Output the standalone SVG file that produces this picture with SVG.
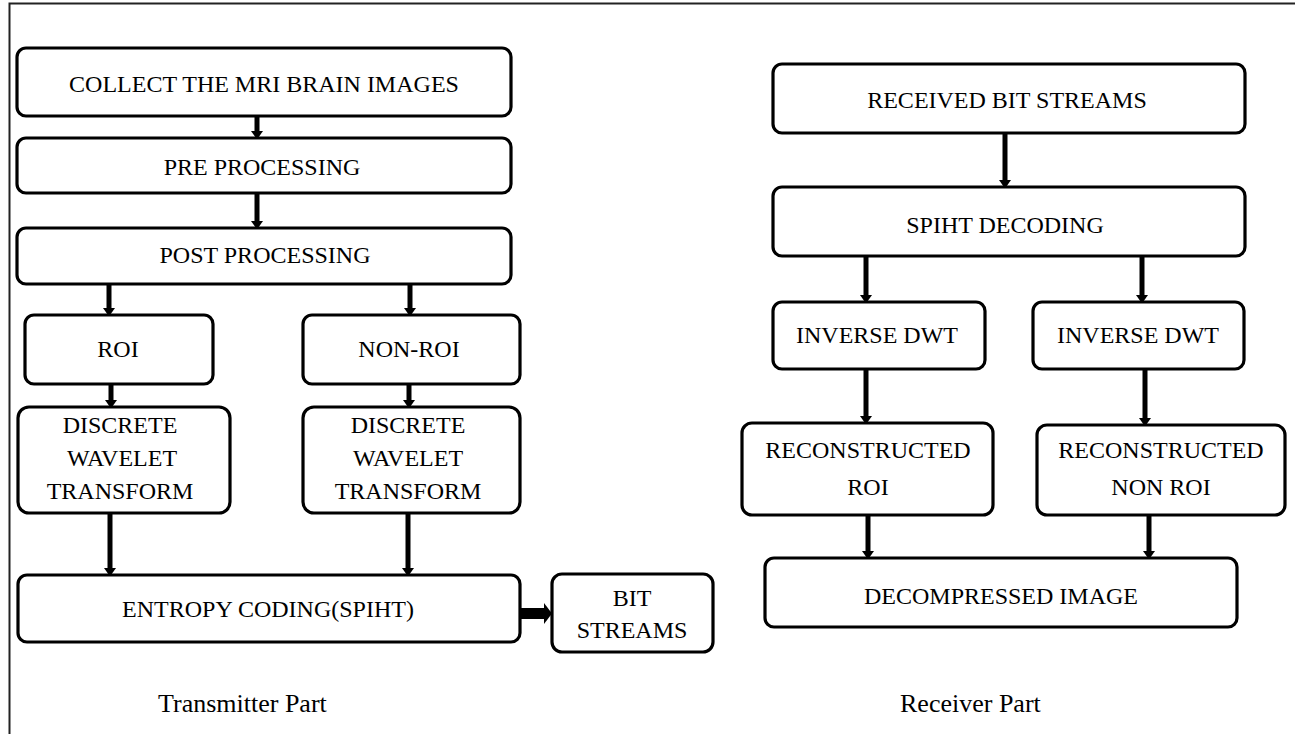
<svg xmlns="http://www.w3.org/2000/svg" width="1295" height="734" viewBox="0 0 1295 734">
<defs>
<style>
.box{fill:#fff;stroke:#000;stroke-width:3.2}
.lbl{font-family:'Liberation Serif','Times New Roman',serif;font-size:24px;fill:#000;text-anchor:middle}
.cap{font-family:'Liberation Serif','Times New Roman',serif;font-size:26px;fill:#000}
.c{stroke:#000;stroke-width:5;fill:none}
</style>
<marker id="ah" markerUnits="userSpaceOnUse" markerWidth="10" markerHeight="12" refX="0" refY="5" orient="auto" viewBox="0 0 8 10">
<path d="M0,0 L7,5 L0,10 z" fill="#000"/>
</marker>
</defs>
<rect width="1295" height="734" fill="#fff"/>
<path d="M9.5,734 V3.5 H1295" fill="none" stroke="#222" stroke-width="2"/>

<g id="connectors">
<line class="c" x1="257" y1="116" x2="257" y2="131" marker-end="url(#ah)"/>
<line class="c" x1="257" y1="193" x2="257" y2="221" marker-end="url(#ah)"/>
<line class="c" x1="109" y1="284" x2="109" y2="308" marker-end="url(#ah)"/>
<line class="c" x1="410" y1="284" x2="410" y2="308" marker-end="url(#ah)"/>
<line class="c" x1="111" y1="384" x2="111" y2="400" marker-end="url(#ah)"/>
<line class="c" x1="409" y1="384" x2="409" y2="400" marker-end="url(#ah)"/>
<line class="c" x1="110" y1="513" x2="110" y2="568" marker-end="url(#ah)"/>
<line class="c" x1="408" y1="513" x2="408" y2="568" marker-end="url(#ah)"/>
<rect x="520" y="608" width="25" height="11" fill="#000"/>
<polygon points="544,603 552,613.5 544,624" fill="#000"/>
<line class="c" x1="1005" y1="133" x2="1005" y2="180" marker-end="url(#ah)"/>
<line class="c" x1="866" y1="256" x2="866" y2="295" marker-end="url(#ah)"/>
<line class="c" x1="1142" y1="256" x2="1142" y2="295" marker-end="url(#ah)"/>
<line class="c" x1="866" y1="369" x2="866" y2="416" marker-end="url(#ah)"/>
<line class="c" x1="1145" y1="369" x2="1145" y2="418" marker-end="url(#ah)"/>
<line class="c" x1="868" y1="515" x2="868" y2="551" marker-end="url(#ah)"/>
<line class="c" x1="1149" y1="515" x2="1149" y2="551" marker-end="url(#ah)"/>
</g>

<g font-family="Liberation Serif, Times New Roman, serif" font-size="24">
<g id="collect"><rect class="box" x="17" y="48" width="494" height="68" rx="9"/><text class="lbl" font-family="Liberation Serif, serif" x="264" y="92">COLLECT THE MRI BRAIN IMAGES</text></g>
<g id="pre"><rect class="box" x="17" y="138" width="494" height="55" rx="9"/><text class="lbl" font-family="Liberation Serif, serif" x="262" y="175">PRE PROCESSING</text></g>
<g id="post"><rect class="box" x="17" y="228" width="494" height="56" rx="9"/><text class="lbl" font-family="Liberation Serif, serif" x="265" y="263">POST PROCESSING</text></g>
<g id="roi"><rect class="box" x="25" y="315" width="188" height="69" rx="9"/><text class="lbl" font-family="Liberation Serif, serif" x="118" y="357">ROI</text></g>
<g id="nonroi"><rect class="box" x="303" y="315" width="217" height="69" rx="9"/><text class="lbl" font-family="Liberation Serif, serif" x="409" y="357">NON-ROI</text></g>
<g id="dwt-roi"><rect class="box" x="18" y="407" width="212" height="106" rx="11"/>
<text class="lbl" font-family="Liberation Serif, serif" x="120" y="433">DISCRETE</text><text class="lbl" font-family="Liberation Serif, serif" x="122" y="466">WAVELET</text><text class="lbl" font-family="Liberation Serif, serif" x="120" y="499">TRANSFORM</text></g>
<g id="dwt-nonroi"><rect class="box" x="303" y="407" width="217" height="106" rx="11"/>
<text class="lbl" font-family="Liberation Serif, serif" x="408" y="433">DISCRETE</text><text class="lbl" font-family="Liberation Serif, serif" x="408" y="466">WAVELET</text><text class="lbl" font-family="Liberation Serif, serif" x="408" y="499">TRANSFORM</text></g>
<g id="entropy"><rect class="box" x="18" y="575" width="502" height="67" rx="9"/><text class="lbl" font-family="Liberation Serif, serif" x="268" y="617">ENTROPY CODING(SPIHT)</text></g>
<g id="bitstreams"><rect class="box" x="552" y="574" width="161" height="78" rx="10"/>
<text class="lbl" font-family="Liberation Serif, serif" x="632" y="606">BIT</text><text class="lbl" font-family="Liberation Serif, serif" x="632" y="638">STREAMS</text></g>

<g id="received"><rect class="box" x="773" y="64" width="472" height="69" rx="9"/><text class="lbl" font-family="Liberation Serif, serif" x="1007" y="108">RECEIVED BIT STREAMS</text></g>
<g id="spiht"><rect class="box" x="773" y="187" width="472" height="69" rx="9"/><text class="lbl" font-family="Liberation Serif, serif" x="1005" y="233">SPIHT DECODING</text></g>
<g id="idwt-roi"><rect class="box" x="773" y="302" width="212" height="67" rx="9"/><text class="lbl" font-family="Liberation Serif, serif" x="877" y="343">INVERSE DWT</text></g>
<g id="idwt-nonroi"><rect class="box" x="1033" y="302" width="211" height="67" rx="9"/><text class="lbl" font-family="Liberation Serif, serif" x="1138" y="343">INVERSE DWT</text></g>
<g id="recon-roi"><rect class="box" x="742" y="423" width="251" height="92" rx="10"/>
<text class="lbl" font-family="Liberation Serif, serif" x="868" y="458">RECONSTRUCTED</text><text class="lbl" font-family="Liberation Serif, serif" x="868" y="495">ROI</text></g>
<g id="recon-nonroi"><rect class="box" x="1037" y="425" width="248" height="90" rx="10"/>
<text class="lbl" font-family="Liberation Serif, serif" x="1161" y="458">RECONSTRUCTED</text><text class="lbl" font-family="Liberation Serif, serif" x="1161" y="495">NON ROI</text></g>
<g id="decompressed"><rect class="box" x="765" y="558" width="472" height="69" rx="9"/><text class="lbl" font-family="Liberation Serif, serif" x="1001" y="604">DECOMPRESSED IMAGE</text></g>
</g>

<text class="cap" x="158" y="712">Transmitter Part</text>
<text class="cap" x="900" y="712">Receiver Part</text>
</svg>
